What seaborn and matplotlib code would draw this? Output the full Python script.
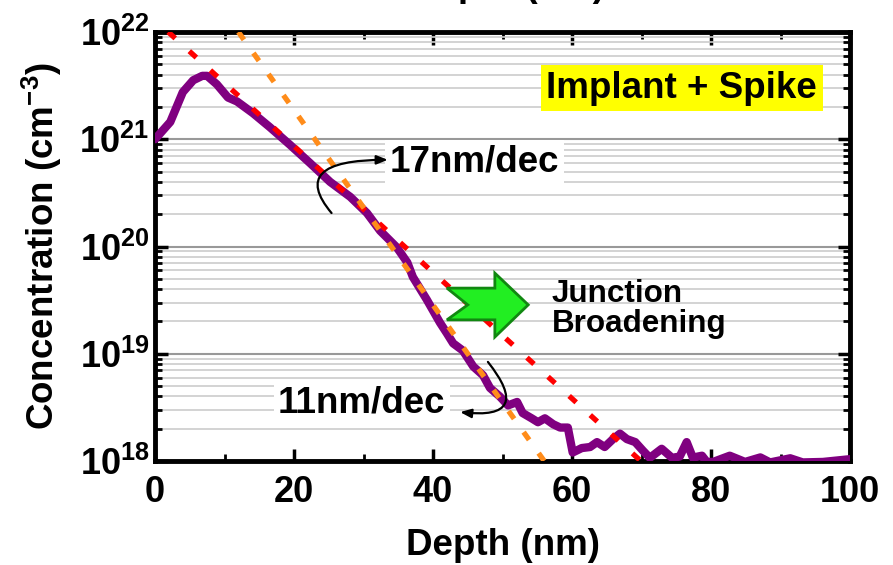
import numpy as np
import pandas as pd
import matplotlib
matplotlib.use("Agg")
import matplotlib.pyplot as plt
import seaborn as sns
from matplotlib.ticker import LogLocator, NullFormatter, FixedLocator, FixedFormatter, MultipleLocator
from matplotlib.patches import Polygon

# ---------------- data ----------------
depth_nm = [0.0, 2.2, 4.0, 5.5, 6.8, 7.5, 8.9, 10.5, 11.8, 14.1, 16.5, 19.4, 22.3, 25.2,
            28.1, 30.5, 32.4, 34.8, 36.3, 37.1, 39.1, 41.0, 42.0, 42.9, 44.3, 45.8, 47.2,
            48.2, 49.6, 50.8, 52.1, 52.9, 54.2, 55.1, 56.1, 57.3, 58.3, 59.4, 60.1, 61.4,
            62.6, 63.6, 64.7, 65.9, 66.9, 67.9, 69.1, 70.2, 71.2, 72.9, 74.4, 75.5, 76.5,
            77.4, 78.1, 78.7, 79.4, 80.3, 82.7, 84.9, 87.1, 88.5, 91.4, 93.2, 96.1, 100.0]
conc_cm3 = [1.0e21, 1.45e21, 2.75e21, 3.55e21, 3.9e21, 3.9e21, 3.25e21, 2.45e21, 2.25e21,
            1.75e21, 1.3e21, 8.9e20, 6.0e20, 4.0e20, 2.9e20, 2.05e20, 1.4e20, 9.8e19,
            7.1e19, 5.2e19, 3.2e19, 1.95e19, 1.55e19, 1.25e19, 1.07e19, 7.6e18, 6.3e18,
            4.8e18, 4.0e18, 3.3e18, 3.55e18, 2.8e18, 2.5e18, 2.3e18, 2.5e18, 2.2e18,
            2.05e18, 2.05e18, 1.2e18, 1.32e18, 1.35e18, 1.5e18, 1.35e18, 1.6e18, 1.8e18,
            1.6e18, 1.5e18, 1.25e18, 1.07e18, 1.3e18, 1.07e18, 1.1e18, 1.5e18, 1.07e18,
            1.1e18, 1.12e18, 0.98e18, 0.98e18, 1.12e18, 0.98e18, 1.08e18, 0.97e18,
            1.06e18, 0.97e18, 0.98e18, 1.04e18]

slope17_x = [1.9, 69.9]          # 17 nm/dec guide line
slope17_y = [1e22, 1e18]
slope11_x = [12.0, 56.0]         # 11 nm/dec guide line
slope11_y = [1e22, 1e18]

x_ticks = [0, 20, 40, 60, 80, 100]
x_tick_labels = ["0", "20", "40", "60", "80", "100"]
y_ticks = [1e18, 1e19, 1e20, 1e21, 1e22]
y_tick_labels = ["$10^{18}$", "$10^{19}$", "$10^{20}$", "$10^{21}$", "$10^{22}$"]

profile = pd.DataFrame({"depth": depth_nm, "conc": conc_cm3})
guide17 = pd.DataFrame({"depth": slope17_x, "conc": slope17_y})
guide11 = pd.DataFrame({"depth": slope11_x, "conc": slope11_y})

# ---------------- style ----------------
sns.set_theme(style="ticks")
plt.rcParams.update({
    "font.family": ["Liberation Sans", "DejaVu Sans"],
    "font.weight": "bold",
    "mathtext.fontset": "custom",
    "mathtext.rm": "Liberation Sans:bold",
    "mathtext.bf": "Liberation Sans:bold",
    "mathtext.it": "Liberation Sans:bold",
    "mathtext.sf": "Liberation Sans:bold",
    "axes.edgecolor": "black",
    "axes.labelcolor": "black",
    "xtick.color": "black",
    "ytick.color": "black",
    "xtick.labelcolor": "black",
    "ytick.labelcolor": "black",
    "axes.linewidth": 3.5,
    "text.color": "black",
})

W, H = 893, 565
fig = plt.figure(figsize=(W / 100, H / 100), dpi=100)
ax = fig.add_axes([155 / W, 1 - 461 / H, 695 / W, 429 / H])
ax.set_facecolor("white")

sns.lineplot(data=profile, x="depth", y="conc", ax=ax, color="#800080", lw=6,
             estimator=None, sort=False, zorder=3, solid_joinstyle="round")
sns.lineplot(data=guide17, x="depth", y="conc", ax=ax, color="#ff0000", lw=3.8,
             estimator=None, linestyle=(0, (1.8, 3.6)), zorder=4)
sns.lineplot(data=guide11, x="depth", y="conc", ax=ax, color="#ff8c1a", lw=3.8,
             estimator=None, linestyle=(0, (1.8, 3.1)), zorder=4)

ax.set_yscale("log")
ax.set_xlim(0, 100)
ax.set_ylim(1e18, 1e22)

ax.xaxis.set_major_locator(FixedLocator(x_ticks))
ax.xaxis.set_major_formatter(FixedFormatter(x_tick_labels))
ax.xaxis.set_minor_locator(MultipleLocator(10))
ax.yaxis.set_major_locator(FixedLocator(y_ticks))
ax.yaxis.set_major_formatter(FixedFormatter(y_tick_labels))
ax.yaxis.set_minor_locator(LogLocator(base=10, subs=np.arange(2, 10), numticks=100))
ax.yaxis.set_minor_formatter(NullFormatter())

ax.tick_params(which="major", direction="in", length=9, width=2.5, top=True, right=True,
               labelsize=26, colors="black", labelcolor="black")
ax.tick_params(axis="x", which="major", pad=10)
ax.tick_params(axis="y", which="major", pad=4)
ax.tick_params(which="minor", direction="in", length=5, width=2, top=True, right=True,
               colors="black")

ax.yaxis.grid(True, which="minor", color="#cccccc", lw=1.2, zorder=0)
ax.yaxis.grid(True, which="major", color="#999999", lw=1.5, zorder=0)
ax.xaxis.grid(False)
ax.set_axisbelow(True)
for s in ax.spines.values():
    s.set_linewidth(3.5)
    s.set_color("black")

ax.set_xlabel("Depth (nm)", fontsize=26.5, fontweight="bold", color="black")
ax.set_ylabel("Concentration (cm$^{-3}$)", fontsize=26.5, fontweight="bold", color="black")
ax.xaxis.set_label_coords(0.5, -0.196)
ax.xaxis.label.set_va("center")
ax.yaxis.set_label_coords(-0.163, 0.5)
ax.yaxis.label.set_va("center")

# partially cut top label (only descenders visible, as in the reference)
fig.text(508 / W, 1 + 4 / H, "Depth (nm)", fontsize=26.5, fontweight="bold",
         ha="center", va="baseline", color="black")

# annotations
ax.text(0.758, 0.869, "Implant + Spike", transform=ax.transAxes, fontsize=26.5,
        fontweight="bold", ha="center", va="center", zorder=6, color="black",
        bbox=dict(boxstyle="square,pad=0.15", facecolor="#ffff00", edgecolor="none"))

ax.text(0.338, 0.697, "17nm/dec", transform=ax.transAxes, fontsize=26.5, color="black",
        fontweight="bold", ha="left", va="center", zorder=5,
        bbox=dict(boxstyle="square,pad=0.12", facecolor="white", edgecolor="none"))
ax.text(0.177, 0.135, "11nm/dec", transform=ax.transAxes, fontsize=26.5, color="black",
        fontweight="bold", ha="left", va="center", zorder=5,
        bbox=dict(boxstyle="square,pad=0.12", facecolor="white", edgecolor="none"))

ax.text(0.571, 0.354, "Junction\nBroadening", transform=ax.transAxes, fontsize=22.6,
        fontweight="bold", ha="left", va="center", linespacing=1.0, zorder=5, color="black")

ax.annotate("", xy=(0.335, 0.702), xytext=(0.254, 0.578), xycoords="axes fraction",
            textcoords="axes fraction", zorder=6,
            arrowprops=dict(arrowstyle="-|>,head_length=0.55,head_width=0.22", lw=1.6,
                            color="black", shrinkA=0, shrinkB=0,
                            connectionstyle="angle3,angleA=130,angleB=0"))
ax.annotate("", xy=(0.439, 0.114), xytext=(0.479, 0.231), xycoords="axes fraction",
            textcoords="axes fraction", zorder=6,
            arrowprops=dict(arrowstyle="-|>,head_length=0.55,head_width=0.22", lw=1.6,
                            color="black", shrinkA=0, shrinkB=0,
                            connectionstyle="arc3,rad=-1.2"))

# green block arrow (notched tail), in axes fraction
green_arrow = Polygon([(0.420, 0.403), (0.450, 0.364), (0.420, 0.329), (0.489, 0.329),
                       (0.489, 0.289), (0.537, 0.364), (0.489, 0.438), (0.489, 0.403)],
                      closed=True, transform=ax.transAxes, facecolor="#22ee22",
                      edgecolor="#118811", lw=2, zorder=5)
ax.add_patch(green_arrow)

fig.savefig("out.png", dpi=100)
